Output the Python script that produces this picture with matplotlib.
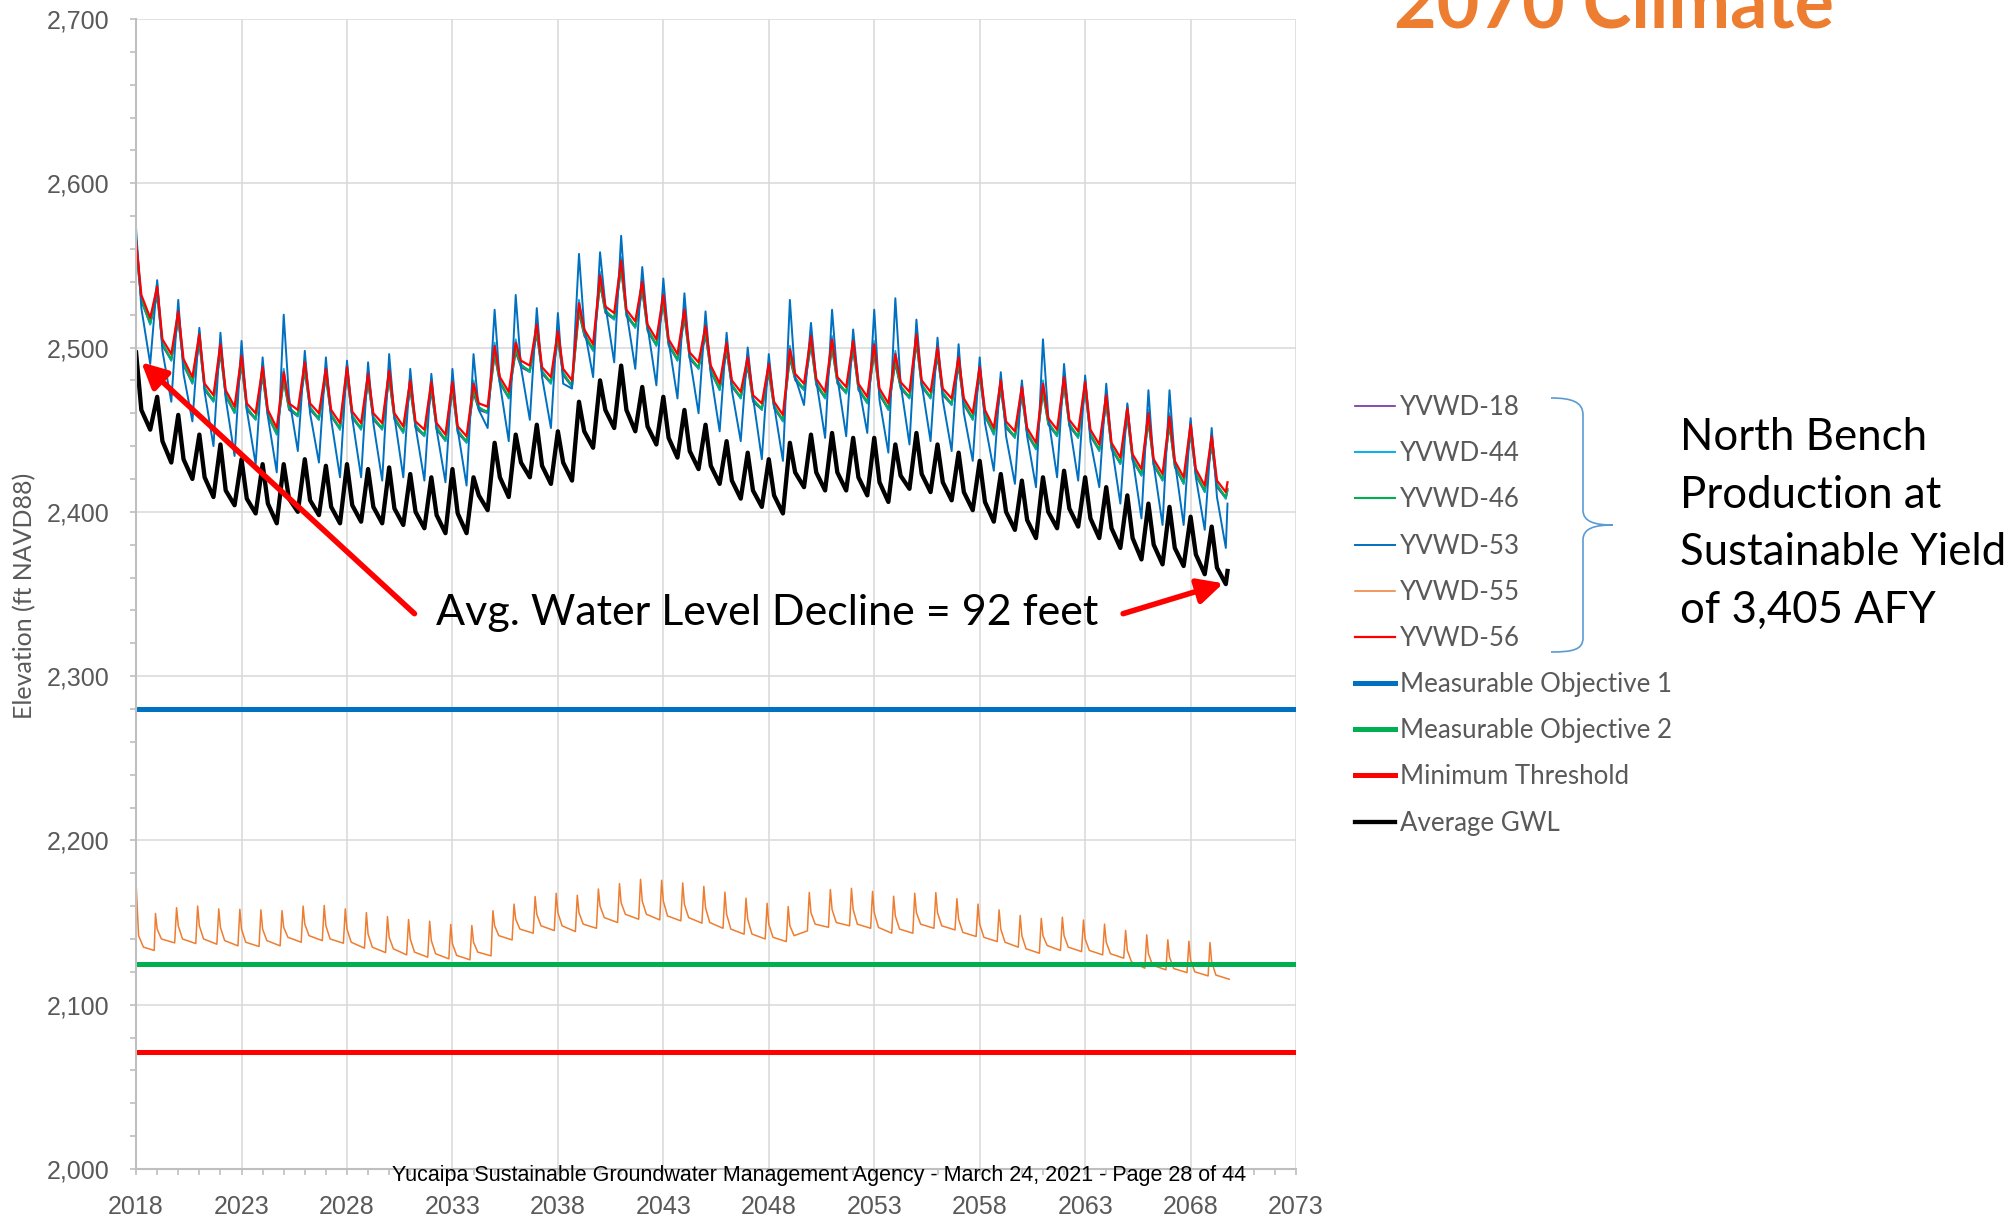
import numpy as np
import matplotlib.pyplot as plt
from matplotlib.path import Path
from matplotlib.patches import PathPatch

# one value per year: annual high, post-recharge shoulder, annual low (ft NAVD88)
years = np.arange(2018, 2070)

red_peak = [2565, 2537, 2522, 2508, 2502, 2495, 2488, 2485, 2491, 2487, 2488, 2484, 2486, 2480, 2479, 2479, 2478,
            2501, 2503, 2514, 2510, 2527, 2544, 2553, 2540, 2532, 2523, 2513, 2503, 2494, 2490, 2499, 2507, 2505,
            2504, 2502, 2496, 2508, 2500, 2494, 2488, 2480, 2476, 2478, 2482, 2479, 2471, 2463, 2460, 2458, 2453, 2446]
red_mid = [2532, 2505, 2493, 2478, 2474, 2466, 2462, 2466, 2466, 2462, 2461, 2460, 2460, 2455, 2454, 2452, 2466,
           2482, 2492, 2488, 2487, 2511, 2525, 2523, 2514, 2505, 2497, 2489, 2480, 2471, 2467, 2484, 2481, 2482,
           2478, 2475, 2479, 2480, 2475, 2469, 2462, 2455, 2451, 2457, 2456, 2450, 2442, 2435, 2432, 2431, 2426, 2419]
red_low = [2518, 2496, 2482, 2471, 2464, 2460, 2451, 2462, 2460, 2454, 2454, 2454, 2452, 2450, 2447, 2446, 2464,
           2473, 2489, 2482, 2480, 2502, 2521, 2516, 2505, 2496, 2491, 2478, 2473, 2466, 2459, 2478, 2473, 2476,
           2470, 2466, 2473, 2473, 2469, 2460, 2451, 2449, 2442, 2450, 2449, 2441, 2433, 2426, 2423, 2421, 2416, 2412]
red_end = 2418

green_peak = [2561, 2533, 2518, 2504, 2498, 2491, 2484, 2481, 2487, 2483, 2484, 2480, 2482, 2476, 2475, 2475, 2474,
              2497, 2499, 2510, 2506, 2523, 2540, 2549, 2536, 2528, 2519, 2509, 2499, 2490, 2486, 2495, 2503, 2501,
              2500, 2498, 2492, 2504, 2496, 2490, 2484, 2476, 2472, 2474, 2478, 2475, 2467, 2459, 2456, 2454, 2449, 2442]
green_mid = [2529, 2502, 2490, 2475, 2471, 2463, 2459, 2463, 2463, 2459, 2458, 2457, 2457, 2452, 2451, 2449, 2463,
             2479, 2489, 2485, 2484, 2508, 2522, 2520, 2511, 2502, 2494, 2486, 2477, 2468, 2464, 2481, 2478, 2479,
             2475, 2472, 2476, 2477, 2472, 2466, 2459, 2452, 2448, 2454, 2453, 2447, 2439, 2432, 2429, 2428, 2423, 2416]
green_low = [2515, 2493, 2479, 2468, 2461, 2457, 2448, 2459, 2457, 2451, 2451, 2451, 2449, 2447, 2444, 2443, 2461,
             2470, 2486, 2479, 2477, 2499, 2518, 2513, 2502, 2493, 2488, 2475, 2470, 2463, 2456, 2475, 2470, 2473,
             2467, 2463, 2470, 2470, 2466, 2457, 2448, 2446, 2439, 2447, 2446, 2438, 2430, 2423, 2420, 2418, 2413, 2409]
green_end = 2414

lblue_peak = [2567, 2539, 2524, 2510, 2504, 2497, 2490, 2487, 2493, 2489, 2490, 2486, 2488, 2482, 2481, 2481, 2480,
              2503, 2505, 2516, 2512, 2529, 2546, 2555, 2542, 2534, 2525, 2515, 2505, 2496, 2492, 2501, 2509, 2507,
              2506, 2504, 2498, 2510, 2502, 2496, 2490, 2482, 2478, 2480, 2484, 2481, 2473, 2465, 2462, 2460, 2455, 2448]
lblue_mid = [2530, 2503, 2491, 2476, 2472, 2464, 2460, 2464, 2464, 2460, 2459, 2458, 2458, 2453, 2452, 2450, 2464,
             2480, 2490, 2486, 2485, 2509, 2523, 2521, 2512, 2503, 2495, 2487, 2478, 2469, 2465, 2482, 2479, 2480,
             2476, 2473, 2477, 2478, 2473, 2467, 2460, 2453, 2449, 2455, 2454, 2448, 2440, 2433, 2430, 2429, 2424, 2417]
lblue_low = [2514, 2492, 2478, 2467, 2460, 2456, 2447, 2458, 2456, 2450, 2450, 2450, 2448, 2446, 2443, 2442, 2460,
             2469, 2485, 2478, 2476, 2498, 2517, 2512, 2501, 2492, 2487, 2474, 2469, 2462, 2455, 2474, 2469, 2472,
             2466, 2462, 2469, 2469, 2465, 2456, 2447, 2445, 2438, 2446, 2445, 2437, 2429, 2422, 2419, 2417, 2412, 2408]
lblue_end = 2413

purple_peak = [2559, 2531, 2516, 2502, 2496, 2489, 2482, 2479, 2485, 2481, 2482, 2478, 2480, 2474, 2473, 2473, 2472,
               2495, 2497, 2508, 2504, 2521, 2538, 2547, 2534, 2526, 2517, 2507, 2497, 2488, 2484, 2493, 2501, 2499,
               2498, 2496, 2490, 2502, 2494, 2488, 2482, 2474, 2470, 2472, 2476, 2473, 2465, 2457, 2454, 2452, 2447, 2440]
purple_mid = [2528, 2501, 2489, 2474, 2470, 2462, 2458, 2462, 2462, 2458, 2457, 2456, 2456, 2451, 2450, 2448, 2462,
              2478, 2488, 2484, 2483, 2507, 2521, 2519, 2510, 2501, 2493, 2485, 2476, 2467, 2463, 2480, 2477, 2478,
              2474, 2471, 2475, 2476, 2471, 2465, 2458, 2451, 2447, 2453, 2452, 2446, 2438, 2431, 2428, 2427, 2422, 2415]
purple_low = [2514, 2492, 2478, 2467, 2460, 2456, 2447, 2458, 2456, 2450, 2450, 2450, 2448, 2446, 2443, 2442, 2460,
              2469, 2485, 2478, 2476, 2498, 2517, 2512, 2501, 2492, 2487, 2474, 2469, 2462, 2455, 2474, 2469, 2472,
              2466, 2462, 2469, 2469, 2465, 2456, 2447, 2445, 2438, 2446, 2445, 2437, 2429, 2422, 2419, 2417, 2412, 2408]
purple_end = 2413

blue_peak = [2572, 2541, 2529, 2512, 2509, 2504, 2494, 2520, 2498, 2494, 2492, 2491, 2496, 2487, 2484, 2487, 2496,
             2523, 2532, 2524, 2521, 2557, 2558, 2568, 2549, 2542, 2533, 2522, 2509, 2500, 2496, 2529, 2515, 2523,
             2511, 2523, 2530, 2517, 2506, 2502, 2494, 2485, 2480, 2505, 2490, 2483, 2478, 2466, 2474, 2474, 2457, 2451]
blue_mid = [2524, 2498, 2484, 2473, 2469, 2462, 2458, 2470, 2460, 2456, 2457, 2454, 2458, 2452, 2450, 2450, 2462,
            2478, 2488, 2482, 2478, 2512, 2526, 2522, 2513, 2504, 2494, 2484, 2474, 2470, 2465, 2482, 2480, 2482,
            2478, 2468, 2478, 2478, 2468, 2460, 2454, 2446, 2446, 2458, 2454, 2443, 2441, 2433, 2429, 2431, 2421, 2409]
blue_low = [2490, 2467, 2455, 2440, 2434, 2429, 2424, 2437, 2430, 2421, 2421, 2419, 2421, 2419, 2418, 2416, 2451,
            2443, 2456, 2451, 2475, 2482, 2491, 2487, 2477, 2469, 2460, 2449, 2443, 2432, 2431, 2465, 2445, 2446,
            2448, 2436, 2441, 2443, 2437, 2431, 2425, 2417, 2415, 2421, 2419, 2415, 2405, 2396, 2392, 2392, 2389, 2378]
blue_end = 2405

avg_peak = [2497, 2470, 2459, 2447, 2441, 2432, 2429, 2429, 2432, 2428, 2429, 2426, 2427, 2423, 2421, 2426, 2421,
            2442, 2447, 2453, 2449, 2467, 2480, 2489, 2476, 2470, 2462, 2453, 2443, 2436, 2432, 2442, 2447, 2448,
            2445, 2445, 2441, 2448, 2441, 2436, 2431, 2423, 2419, 2421, 2425, 2421, 2415, 2410, 2405, 2403, 2397, 2391]
avg_mid = [2462, 2443, 2432, 2421, 2413, 2408, 2405, 2408, 2407, 2403, 2404, 2403, 2402, 2400, 2398, 2399, 2410,
           2421, 2430, 2428, 2430, 2449, 2462, 2462, 2452, 2445, 2437, 2428, 2419, 2413, 2410, 2424, 2424, 2424,
           2421, 2418, 2422, 2423, 2418, 2412, 2406, 2400, 2395, 2400, 2402, 2396, 2390, 2384, 2380, 2378, 2374, 2366]
avg_low = [2450, 2430, 2420, 2409, 2404, 2399, 2393, 2400, 2398, 2393, 2394, 2393, 2392, 2390, 2387, 2387, 2401,
           2409, 2421, 2417, 2419, 2439, 2451, 2449, 2441, 2433, 2426, 2417, 2408, 2403, 2399, 2415, 2413, 2413,
           2410, 2406, 2414, 2412, 2407, 2401, 2394, 2389, 2384, 2390, 2391, 2384, 2378, 2371, 2368, 2367, 2362, 2356]
avg_end = 2364

# YVWD-55: spike each winter (2018-2068), then decay to a low
orange_years = np.arange(2018, 2069)
orange_start = [2174, 2142, 2135, 2133]
orange_peak = [2155.5, 2159, 2160, 2158.3, 2158, 2157.7, 2157.2, 2160, 2160.4, 2158.3, 2156, 2153.6, 2151.8,
               2150.8, 2148.8, 2148.2, 2157.2, 2161.2, 2165.8, 2167.8, 2166.6, 2170.4, 2173.7, 2176.3, 2175.7,
               2174.1, 2172, 2168.5, 2164.8, 2161.7, 2159.7, 2168.3, 2170.1, 2170.8, 2168.9, 2166, 2167.8, 2168.2,
               2164.5, 2161.2, 2157.7, 2154.3, 2152.5, 2153.2, 2151.5, 2149, 2145.2, 2142.5, 2139.5, 2138.6, 2137.8]
orange_mid = [2146, 2148, 2148, 2147, 2146, 2146, 2147, 2149, 2148, 2146, 2143, 2141, 2140, 2139, 2137, 2138,
              2148, 2152, 2155, 2156, 2156, 2160, 2162, 2163, 2163, 2161, 2159, 2155, 2152, 2149, 2148, 2156,
              2158, 2158, 2156, 2154, 2156, 2156, 2152, 2149, 2146, 2142, 2142, 2142, 2140, 2138, 2133, 2131,
              2129, 2127, 2126]
orange_knee = [2140, 2140, 2140, 2139, 2138, 2139, 2141, 2142, 2140, 2138, 2135, 2134, 2132, 2131, 2130, 2132,
               2142, 2146, 2148, 2148, 2149, 2153, 2155, 2155, 2154, 2153, 2150, 2146, 2143, 2141, 2142, 2149,
               2150, 2149, 2147, 2146, 2149, 2148, 2144, 2141, 2138, 2134, 2136, 2135, 2133, 2131, 2126, 2124,
               2122, 2120, 2118]
orange_low = [2137.6, 2137.2, 2136.8, 2135.8, 2135.4, 2135.8, 2138, 2139, 2137.4, 2134.4, 2131.7, 2130.3, 2128.9,
              2127.9, 2127.3, 2129.7, 2139.4, 2143.5, 2145.1, 2144.5, 2146.5, 2150, 2152, 2151.6, 2151, 2149.6,
              2146.5, 2142.9, 2140, 2138.4, 2144.9, 2147.1, 2148, 2146.5, 2143.5, 2143.5, 2146.5, 2145.5, 2141.5,
              2138.4, 2135, 2131.3, 2133, 2132.3, 2130.3, 2128.3, 2122.2, 2121.2, 2119.5, 2117.5, 2115.5]

mo1, mo2, min_thr = 2280, 2125, 2071


def wave(peak, mid, low, end):
    return np.append(np.column_stack([peak, mid, low]).ravel(), end)


t_up = np.append((years[:, None] + np.array([0.0, 0.25, 0.67])).ravel(), 2069.75)
t_or = np.concatenate([[2018.0, 2018.12, 2018.35, 2018.86],
                       (orange_years[:, None] + np.array([0.92, 1.0, 1.2, 1.83])).ravel()])
y_or = np.concatenate([orange_start, np.column_stack([orange_peak, orange_mid, orange_knee, orange_low]).ravel()])

fig = plt.figure(figsize=(20.1, 12.16), dpi=100)
ax = fig.add_axes([0.0677, 0.0387, 0.5771, 0.9457])

h = []
h += ax.plot(t_up, wave(purple_peak, purple_mid, purple_low, purple_end), color='#7030A0', lw=1.2, label='YVWD-18')
h += ax.plot(t_up, wave(lblue_peak, lblue_mid, lblue_low, lblue_end), color='#00B0F0', lw=1.4, label='YVWD-44')
h += ax.plot(t_up, wave(green_peak, green_mid, green_low, green_end), color='#00B050', lw=1.5, label='YVWD-46')
h += ax.plot(t_up, wave(blue_peak, blue_mid, blue_low, blue_end), color='#0070C0', lw=1.4, label='YVWD-53')
h += ax.plot(t_or, y_or, color='#ED7D31', lw=1.1, label='YVWD-55')
h += ax.plot(t_up, wave(red_peak, red_mid, red_low, red_end), color='#FF0000', lw=1.6, label='YVWD-56')
h.append(ax.axhline(mo1, color='#0070C0', lw=3.6, label='Measurable Objective 1'))
h.append(ax.axhline(mo2, color='#00B050', lw=3.6, label='Measurable Objective 2'))
h.append(ax.axhline(min_thr, color='#FF0000', lw=3.6, label='Minimum Threshold'))
h += ax.plot(t_up, wave(avg_peak, avg_mid, avg_low, avg_end), color='black', lw=3.1, label='Average GWL')

ax.set_xlim(2018, 2073)
ax.set_ylim(2000, 2700)
ax.set_xticks(np.arange(2018, 2074, 5))
ax.set_xticks(np.arange(2018, 2074, 1), minor=True)
ax.set_yticks(np.arange(2000, 2701, 100))
ax.set_yticks(np.arange(2000, 2701, 20), minor=True)
ax.set_yticklabels([f"{v:,}" for v in range(2000, 2701, 100)])
ax.grid(True, which='major', color='#D9D9D9', lw=1.1)
ax.set_axisbelow(True)
for s in ['top', 'right']:
    ax.spines[s].set_visible(False)
for s in ['left', 'bottom']:
    ax.spines[s].set_color('#BFBFBF')
    ax.spines[s].set_linewidth(1.5)
ax.tick_params(which='both', direction='out', length=4, color='#BFBFBF', width=1.2)
ax.tick_params(axis='both', which='major', labelcolor='#595959', labelsize=18, pad=15)
for lab in ax.get_xticklabels() + ax.get_yticklabels():
    lab.set_family('Liberation Sans')

fig.text(25 / 2010, 1 - 596 / 1216, 'Elevation (ft NAVD88)', rotation=90, ha='center', va='center',
         fontsize=18, color='#595959', family='Lato')

# arrows and annotation
arrow = dict(arrowstyle='-|>', color='#FF0000', lw=4, mutation_scale=38, shrinkA=0, shrinkB=0)
ax.annotate('', xy=(2018.25, 2491), xytext=(2031.2, 2338), arrowprops=arrow)
ax.annotate('', xy=(2069.55, 2356.5), xytext=(2064.8, 2338), arrowprops=arrow)
ax.text(2047.9, 2331, 'Avg. Water Level Decline = 92 feet', ha='center', va='baseline',
        fontsize=31, family='Lato', color='black')

# legend
ax.legend(handles=h, loc='upper left', bbox_to_anchor=(1355 / 2010, 1 - 395 / 1216),
          bbox_transform=fig.transFigure, frameon=False, borderpad=0, borderaxespad=0,
          prop={'family': 'Lato', 'size': 18.6}, labelcolor='#595959',
          handlelength=1.55, handletextpad=0.2, labelspacing=0.82)

# brace beside the well entries
W, H = 2010, 1216
pts = [(1551, 398), (1572, 398), (1583, 402), (1583, 415), (1583, 510), (1583, 522), (1595, 525), (1613, 525),
       (1595, 525), (1583, 528), (1583, 540), (1583, 638), (1583, 650), (1572, 652), (1551, 652)]
codes = [Path.MOVETO, Path.CURVE4, Path.CURVE4, Path.CURVE4, Path.LINETO, Path.CURVE4, Path.CURVE4, Path.CURVE4,
         Path.CURVE4, Path.CURVE4, Path.CURVE4, Path.LINETO, Path.CURVE4, Path.CURVE4, Path.CURVE4]
brace = Path([(x / W, 1 - y / H) for x, y in pts], codes)
fig.add_artist(PathPatch(brace, fill=False, edgecolor='#5B9BD5', lw=1.2, transform=fig.transFigure))

side_lines = ['North Bench', 'Production at', 'Sustainable Yield', 'of 3,405 AFY']
for i, line in enumerate(side_lines):
    fig.text(1680 / W, 1 - (450 + 57.6 * i) / H, line, ha='left', va='baseline', fontsize=31.5,
             family='Lato', color='black')

fig.text(1394 / W, 1 - 28 / H, '2070 Climate', ha='left', va='baseline', fontsize=53,
         family='Lato', weight='bold', color='#ED7D31')

fig.text(819.5 / W, 1 - 1181 / H, 'Yucaipa Sustainable Groundwater Management Agency - March 24, 2021 - Page 28 of 44',
         ha='center', va='baseline', fontsize=15.5, family='Liberation Sans', color='black')

fig.savefig('out.png', dpi=100)
